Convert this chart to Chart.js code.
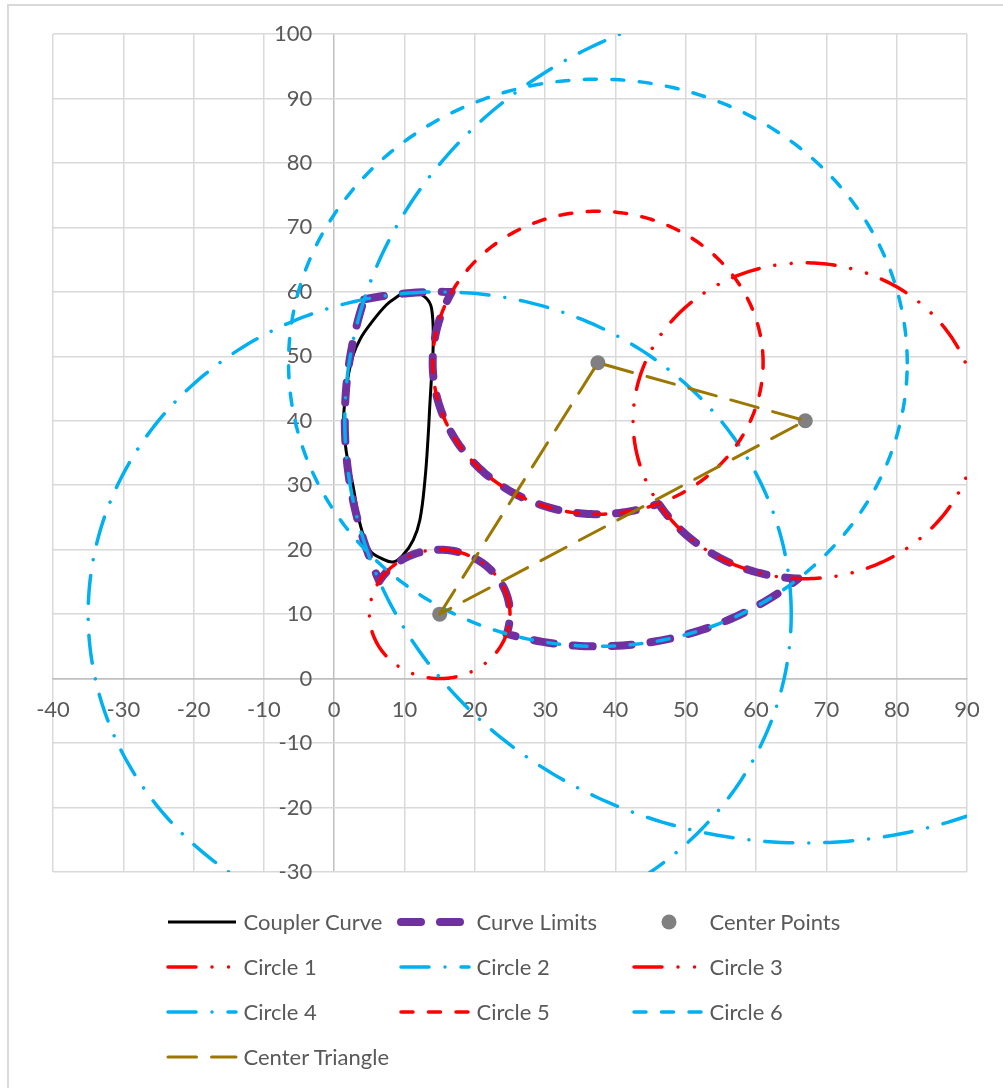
<!DOCTYPE html>
<html>
<head>
<meta charset="utf-8">
<title>Coupler Curve</title>
<script src="https://cdn.jsdelivr.net/npm/chart.js@4.4.1/dist/chart.umd.min.js"></script>
<style>
  html, body { margin: 0; padding: 0; background: #ffffff; overflow: hidden; }
  #wrap { position: relative; width: 1003px; height: 1088px; overflow: hidden; }
  #frame { position: absolute; left: 7px; top: 4px; width: 1100px; height: 1200px;
           border: 2px solid #d9d9d9; box-sizing: border-box; }
  #plot { position: absolute; left: 0; top: 0; }
  #legend { position: absolute; left: 0; top: 0; }
</style>
</head>
<body>
<div id="wrap">
  <div id="frame"></div>
  <canvas id="plot" width="1003" height="900"></canvas>
  <svg id="legend" width="1003" height="1088" xmlns="http://www.w3.org/2000/svg"></svg>
</div>
<script>
// ---- axis ticks ----
const xTickValues = [-40, -30, -20, -10, 0, 10, 20, 30, 40, 50, 60, 70, 80, 90];
const yTickValues = [-30, -20, -10, 0, 10, 20, 30, 40, 50, 60, 70, 80, 90, 100];

// ---- series names (legend order) ----
const seriesNames = ['Coupler Curve', 'Curve Limits', 'Center Points',
                     'Circle 1', 'Circle 2', 'Circle 3',
                     'Circle 4', 'Circle 5', 'Circle 6',
                     'Center Triangle'];

// ---- coupler curve (closed loop) ----
const couplerX = [9.3, 11.7, 13.1, 13.85, 14.08, 13.85, 13.6, 13.37, 12.9, 12.18, 11.23, 9.81, 8.38, 6.73, 5.07, 3.65, 2.69, 1.98, 1.51, 1.35, 1.6, 2.0, 2.69, 3.7, 5.07, 7.44, 9.3];
const couplerY = [59.5, 59.8, 59.0, 57.4, 52.3, 47.1, 42.5, 37.8, 30.8, 24.6, 21.5, 19.2, 18.1, 18.65, 19.9, 24.1, 29.8, 33.4, 37.0, 40.5, 44.0, 47.0, 50.2, 52.7, 54.9, 58.0, 59.5];

// ---- center points (pivots) ----
const centerX = [15, 37.5, 67];
const centerY = [10, 49, 40];

// ---- circles 1..6: which center, and radius ----
const circleCenter = [0, 0, 2, 2, 1, 1];
const circleRadius = [10, 50, 24.5, 65.5, 23.5, 44];

// ---- curve limits: arcs of the circles (circle number, from angle, to angle in degrees) ----
const limitCircle = [2, 5, 3, 6, 1, 4];
const limitFrom   = [102.4, 152.1, 211.5, 310.4, -17.5, 202.3];
const limitTo     = [88.05, 291.5, 267.7, 252.8, 149.3, 163.3];

// ---- center triangle vertex order ----
const triangleOrder = [0, 1, 2, 0];

// ---- styles ----
const RED = '#ff0000', CYAN = '#00b0f0';
const DASH_DOT_DOT = [28, 16, 0.01, 16.5, 0.01, 16];
const DASH_DOT = [28, 16, 0.01, 16];
const DASHED = [12, 15.5];
const seriesStyle = {
  'Coupler Curve':   { color: '#000000', width: 3,   dash: [] },
  'Curve Limits':    { color: '#7030a0', width: 8,   dash: [20, 19] },
  'Center Points':   { color: '#808080', point: 7.5 },
  'Circle 1':        { color: RED,  width: 3.5, dash: DASH_DOT_DOT },
  'Circle 2':        { color: CYAN, width: 3.5, dash: DASH_DOT },
  'Circle 3':        { color: RED,  width: 3.5, dash: DASH_DOT_DOT },
  'Circle 4':        { color: CYAN, width: 3.5, dash: DASH_DOT },
  'Circle 5':        { color: RED,  width: 3.5, dash: DASHED },
  'Circle 6':        { color: CYAN, width: 3.5, dash: DASHED },
  'Center Triangle': { color: '#9c7700', width: 3,   dash: [28.5, 15] }
};

// ---- geometry helpers ----
function arcPoints(cx, cy, r, a0, a1) {
  const n = Math.max(8, Math.ceil(Math.abs(a1 - a0) / 1));
  const pts = [];
  for (let i = 0; i <= n; i++) {
    const a = (a0 + (a1 - a0) * i / n) * Math.PI / 180;
    pts.push({ x: cx + r * Math.cos(a), y: cy + r * Math.sin(a) });
  }
  return pts;
}
function circlePoints(k) {
  const c = circleCenter[k];
  return arcPoints(centerX[c], centerY[c], circleRadius[k], 0, 360);
}
function limitPoints() {
  let pts = [];
  limitCircle.forEach((num, i) => {
    const k = num - 1, c = circleCenter[k];
    const seg = arcPoints(centerX[c], centerY[c], circleRadius[k], limitFrom[i], limitTo[i]);
    pts = pts.concat(i === 0 ? seg : seg.slice(1));
  });
  pts.push(pts[0]);
  return pts;
}

// ---- datasets ----
function lineSet(name, data, extra) {
  const s = seriesStyle[name];
  return Object.assign({
    label: name, data, showLine: true, fill: false,
    borderColor: s.color, borderWidth: s.width, borderDash: s.dash,
    borderCapStyle: 'round', borderJoinStyle: 'round',
    pointRadius: 0, pointHoverRadius: 0, tension: 0
  }, extra || {});
}

const datasets = [];
datasets.push(lineSet('Coupler Curve', couplerX.map((x, i) => ({ x, y: couplerY[i] })), { tension: 0.4, borderCapStyle: 'butt' }));
datasets.push(lineSet('Curve Limits', limitPoints()));
datasets.push({
  label: 'Center Points', data: centerX.map((x, i) => ({ x, y: centerY[i] })),
  showLine: false, pointRadius: seriesStyle['Center Points'].point, pointHoverRadius: 7.5,
  pointBackgroundColor: seriesStyle['Center Points'].color, pointBorderWidth: 0
});
for (let k = 0; k < 6; k++) datasets.push(lineSet('Circle ' + (k + 1), circlePoints(k)));
datasets.push(lineSet('Center Triangle', triangleOrder.map(i => ({ x: centerX[i], y: centerY[i] }))));
// later series are painted on top
datasets.forEach((d, i) => { d.order = datasets.length - i; });

const tickFont = { family: 'Lato', size: 22 };
const gridColor = c => (c.tick && c.tick.value === 0) ? '#bfbfbf' : '#d9d9d9';

function draw() {
  new Chart(document.getElementById('plot'), {
    type: 'scatter',
    data: { datasets },
    options: {
      responsive: false, animation: false, devicePixelRatio: 1,
      layout: { padding: { left: 53, top: 34, right: 36, bottom: 28 } },
      plugins: { legend: { display: false }, tooltip: { enabled: false } },
      scales: {
        x: {
          type: 'linear', position: { y: 0 }, min: -40, max: 90,
          afterBuildTicks: s => { s.ticks = xTickValues.map(v => ({ value: v })); },
          grid: { color: gridColor, lineWidth: 1.5, drawTicks: false },
          border: { color: '#bfbfbf', width: 1.5 },
          ticks: { padding: 18, color: '#595959', font: tickFont, maxRotation: 0, autoSkip: false }
        },
        y: {
          // labels sit a little left of the x = 0 axis line (drawn by the x grid)
          type: 'linear', position: { x: -3.13 }, min: -30, max: 100,
          afterBuildTicks: s => { s.ticks = yTickValues.map(v => ({ value: v })); },
          grid: { color: gridColor, lineWidth: 1.5, drawTicks: false },
          border: { display: false },
          ticks: { padding: 0, color: '#595959', font: tickFont, autoSkip: false }
        }
      }
    }
  });
  buildLegend();
}

// ---- legend (3 columns) ----
function buildLegend() {
  const svg = document.getElementById('legend');
  const NS = 'http://www.w3.org/2000/svg';
  const colX = [167, 400, 633], rowY0 = 922, rowStep = 45;
  seriesNames.forEach((name, i) => {
    const s = seriesStyle[name];
    const x0 = colX[i % 3], y = rowY0 + Math.floor(i / 3) * rowStep;
    if (s.point) {
      const c = document.createElementNS(NS, 'circle');
      c.setAttribute('cx', x0 + 36); c.setAttribute('cy', y); c.setAttribute('r', s.point);
      c.setAttribute('fill', s.color);
      svg.appendChild(c);
    } else {
      const l = document.createElementNS(NS, 'line');
      l.setAttribute('x1', x0 + 1); l.setAttribute('x2', x0 + 69);
      l.setAttribute('y1', y); l.setAttribute('y2', y);
      l.setAttribute('stroke', s.color); l.setAttribute('stroke-width', s.width);
      l.setAttribute('stroke-linecap', name === 'Coupler Curve' ? 'butt' : 'round');
      if (s.dash.length) l.setAttribute('stroke-dasharray', s.dash.join(' '));
      svg.appendChild(l);
    }
    const t = document.createElementNS(NS, 'text');
    t.setAttribute('x', x0 + 76.5); t.setAttribute('y', y + 8);
    t.setAttribute('font-family', 'Lato'); t.setAttribute('font-size', '22');
    t.setAttribute('fill', '#595959');
    t.textContent = name;
    svg.appendChild(t);
  });
}

if (document.fonts && document.fonts.load) {
  document.fonts.load('22px Lato').then(draw, draw);
} else {
  draw();
}
</script>
</body>
</html>
